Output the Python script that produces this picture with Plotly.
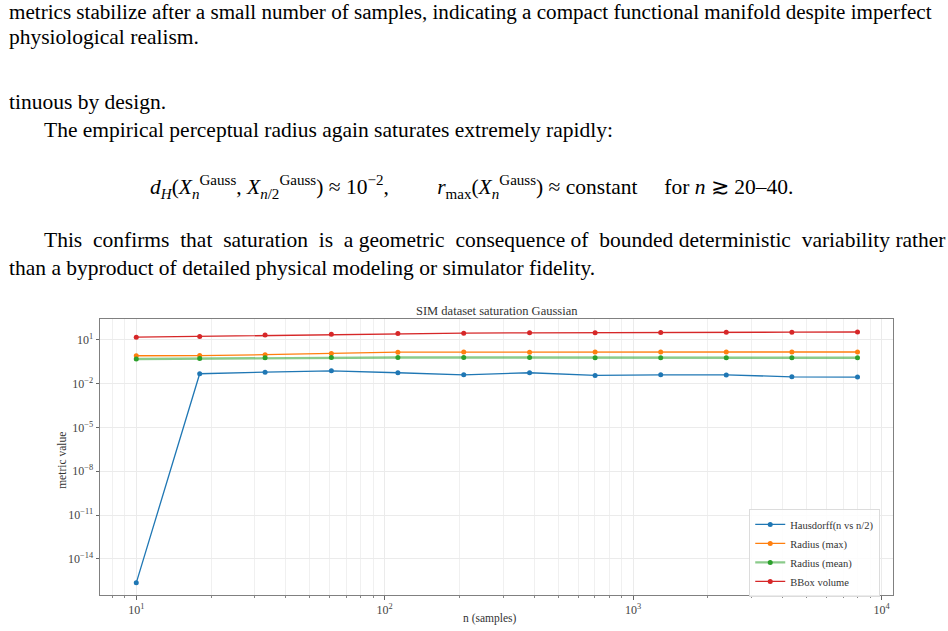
import plotly.graph_objects as go

# ---------------- data ----------------
n_samples = [10, 18, 33, 61, 113, 208, 383, 703, 1291, 2371, 4354, 8000]
hausdorff = [2.3e-16, 0.047, 0.060, 0.075, 0.055, 0.040, 0.055, 0.036, 0.040, 0.039, 0.029, 0.028]
radius_max = [0.80, 0.82, 0.95, 1.15, 1.42, 1.43, 1.42, 1.43, 1.43, 1.43, 1.43, 1.45]
radius_mean = [0.48, 0.52, 0.58, 0.60, 0.61, 0.61, 0.60, 0.59, 0.58, 0.58, 0.58, 0.58]
bbox_volume = [15.0, 17.0, 21.0, 24.0, 27.0, 28.0, 30.0, 30.0, 31.0, 33.0, 33.0, 34.0]

series_names = ["Hausdorff(n vs n/2)", "Radius (max)", "Radius (mean)", "BBox volume"]
series_colors = ["#1f77b4", "#ff7f0e", "#2ca02c", "#d62728"]

x_tick_exponents = [1, 2, 3, 4]
y_tick_exponents = [1, -2, -5, -8, -11, -14]

chart_title = "SIM dataset saturation Gaussian"
x_label = "n (samples)"
y_label = "metric value"

page_lines = [
    "metrics stabilize after a small number of samples, indicating a compact functional manifold despite imperfect",
    "physiological realism.",
    "tinuous by design.",
    "The empirical perceptual radius again saturates extremely rapidly:",
    "This confirms that saturation is a geometric consequence of bounded deterministic variability rather",
    "than a byproduct of detailed physical modeling or simulator fidelity.",
]
math_line = ("<i>d</i><sub><i>H</i></sub>(<i>X</i><sub><i>n</i></sub><sup>Gauss</sup>, "
             "<i>X</i><sub><i>n</i>/2</sub><sup>Gauss</sup>) ≈ 10<sup>−2</sup>,"
             "\u00a0\u00a0\u00a0\u00a0\u00a0\u00a0\u00a0\u00a0\u00a0<i>r</i><sub>max</sub>(<i>X</i><sub><i>n</i></sub><sup>Gauss</sup>) ≈ constant"
             "\u00a0\u00a0\u00a0\u00a0\u00a0for <i>n</i> ≳ 20–40.")

# ---------------- layout geometry (pixels) ----------------
W, H = 948, 631
PL, PR, PT, PB = 100, 892.7, 319.3, 595.0

def px_x(px):
    return (px - PL) / (PR - PL)

def px_y(py):
    return (PB - py) / (PB - PT)

def widen(line, extra):
    # add non-breaking spaces to word gaps (emulates a justified line)
    words = line.split(" ")
    out = words[0]
    for i, w in enumerate(words[1:]):
        gap = " "
        if extra > 0 and (i % 2 == 0 or extra > (len(words) - 1 - i) // 2):
            gap = " \u00a0"
            extra -= 1
        out += gap + w
    return out

SERIF = "Liberation Serif, Times New Roman, serif"

fig = go.Figure()
all_series = [hausdorff, radius_max, radius_mean, bbox_volume]
for name, vals, col in zip(series_names, all_series, series_colors):
    lw = 1.3
    lcol = col
    if name == "Radius (mean)":
        lw = 2.4
        lcol = "rgba(44,160,44,0.55)"
    fig.add_trace(go.Scatter(
        x=n_samples, y=vals, name=name, mode="lines+markers",
        line=dict(color=lcol, width=lw),
        marker=dict(color=col, size=5),
    ))

annotations = []
text_specs = [(7, 13, 21.1, 0), (7, 38, 21.5, 0), (7, 103, 21.5, 0), (42, 131, 21.5, 0),
              (42, 240, 21.5, 8), (7, 268, 21.5, 0)]
for (x0, y0, fs, extra), t in zip(text_specs, page_lines):
    annotations.append(dict(
        text=widen(t, extra) if extra else t, x=px_x(x0), y=px_y(y0),
        xref="paper", yref="paper",
        xanchor="left", yanchor="middle", showarrow=False,
        font=dict(family=SERIF, size=fs, color="#000"),
    ))
annotations.append(dict(
    text=math_line, x=px_x(148), y=px_y(187), xref="paper", yref="paper",
    xanchor="left", yanchor="middle", showarrow=False,
    font=dict(family=SERIF, size=21.5, color="#000"),
))
annotations.append(dict(
    text=chart_title, x=0.5, y=px_y(311), xref="paper", yref="paper",
    xanchor="center", yanchor="middle", showarrow=False,
    font=dict(family=SERIF, size=12.5, color="#333"),
))
annotations.append(dict(
    text=x_label, x=px_x(490), y=px_y(618), xref="paper", yref="paper",
    xanchor="center", yanchor="middle", showarrow=False,
    font=dict(family=SERIF, size=11.5, color="#333"),
))
annotations.append(dict(
    text=y_label, x=px_x(62), y=px_y(460), xref="paper", yref="paper",
    xanchor="center", yanchor="middle", showarrow=False, textangle=-90,
    font=dict(family=SERIF, size=11.5, color="#333"),
))

axis_common = dict(
    type="log", showline=True, mirror=True, linecolor="#808080", linewidth=1,
    gridcolor="#ebebeb", gridwidth=1, ticks="outside", ticklen=3.5, tickcolor="#666",
    zeroline=False, automargin=False,
    tickfont=dict(family=SERIF, size=12, color="#444"),
)

fig.update_layout(
    width=W, height=H,
    margin=dict(l=PL, r=W - PR, t=PT, b=H - PB, pad=0),
    paper_bgcolor="white", plot_bgcolor="white",
    showlegend=True,
    legend=dict(
        x=px_x(749), y=px_y(509), xanchor="left", yanchor="top",
        bgcolor="rgba(255,255,255,0.85)", bordercolor="#dcdcdc", borderwidth=1,
        font=dict(family=SERIF, size=10.5, color="#333"),
        itemwidth=30, tracegroupgap=0,
    ),
    annotations=annotations,
    xaxis=dict(
        **axis_common,
        range=[0.854, 4.046],
        tickmode="array",
        tickvals=[10 ** e for e in x_tick_exponents],
        ticktext=[f"10<sup>{e}</sup>" for e in x_tick_exponents],
        minor=dict(dtick="D1", showgrid=True, gridcolor="#f0f0f0", ticks="outside",
                   ticklen=2, tickcolor="#888"),
    ),
    yaxis=dict(
        **axis_common,
        range=[-16.47, 2.42],
        tickmode="array",
        tickvals=[10.0 ** e for e in y_tick_exponents],
        ticktext=[f"10<sup>{str(e).replace('-', '−')}</sup>" for e in y_tick_exponents],
    ),
)

fig.write_html("out.html")
